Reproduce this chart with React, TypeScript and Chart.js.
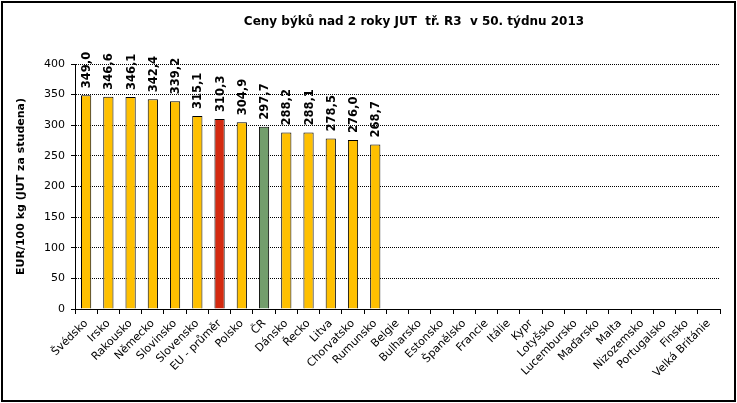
import React, { useEffect, useRef } from "react";
import { Chart, registerables } from "chart.js";

Chart.register(...registerables);

const TITLE = "Ceny býků nad 2 roky JUT  tř. R3  v 50. týdnu 2013";
const Y_TITLE = "EUR/100 kg (JUT za studena)";

const categories = [
  "Švédsko", "Irsko", "Rakousko", "Německo", "Slovinsko", "Slovensko",
  "EU - průměr", "Polsko", "ČR", "Dánsko", "Řecko", "Litva", "Chorvatsko",
  "Rumunsko", "Belgie", "Bulharsko", "Estonsko", "Španělsko", "Francie",
  "Itálie", "Kypr", "Lotyšsko", "Lucembursko", "Maďarsko", "Malta",
  "Nizozemsko", "Portugalsko", "Finsko", "Velká Británie",
];

const prices: (number | null)[] = [
  349.0, 346.6, 346.1, 342.4, 339.2, 315.1, 310.3, 304.9, 297.7, 288.2,
  288.1, 278.5, 276.0, 268.7, null, null, null, null, null, null, null,
  null, null, null, null, null, null, null, null,
];

const yTicks = [0, 50, 100, 150, 200, 250, 300, 350, 400];

const YELLOW = "#FFC000";
const RED = "#D42A10";
const GREEN = "#739E6C";

const barColors = categories.map((c) =>
  c === "EU - průměr" ? RED : c === "ČR" ? GREEN : YELLOW
);

const FONT = "'DejaVu Sans', Verdana, sans-serif";

const labelPlugin = {
  id: "valueLabels",
  afterDatasetsDraw(chart: any) {
    const ctx = chart.ctx;
    const meta = chart.getDatasetMeta(0);
    ctx.save();
    ctx.font = `bold 11.5px ${FONT}`;
    ctx.fillStyle = "#000";
    ctx.textAlign = "left";
    ctx.textBaseline = "middle";
    meta.data.forEach((bar: any, i: number) => {
      const v = prices[i];
      if (v == null) return;
      const txt = v.toFixed(1).replace(".", ",");
      ctx.save();
      ctx.translate(bar.x + 1, bar.y - 7);
      ctx.rotate(-Math.PI / 2);
      ctx.fillText(txt, 0, 0);
      ctx.restore();
    });
    ctx.restore();
  },
};

const titlePlugin = {
  id: "customTitle",
  afterDraw(chart: any) {
    const ctx = chart.ctx;
    ctx.save();
    ctx.font = `bold 12px ${FONT}`;
    ctx.fillStyle = "#000";
    ctx.textAlign = "center";
    ctx.textBaseline = "middle";
    ctx.fillText(TITLE, 414, 22);
    ctx.restore();
  },
};

export default function App() {
  const ref = useRef<HTMLCanvasElement>(null);

  useEffect(() => {
    document.body.style.margin = "0";
    const chart = new Chart(ref.current!, {
      type: "bar",
      data: {
        labels: categories,
        datasets: [
          {
            data: prices as any,
            backgroundColor: barColors,
            borderColor: "#000",
            borderWidth: 1,
            barPercentage: 0.46,
            categoryPercentage: 1,
          },
        ],
      },
      options: {
        animation: false,
        responsive: false,
        maintainAspectRatio: false,
        layout: { padding: { top: 64, right: 17, left: 0, bottom: 0 } },
        plugins: {
          legend: { display: false },
          title: { display: false },
          tooltip: { enabled: false },
        },
        scales: {
          x: {
            offset: true,
            grid: {
              display: true,
              offset: true,
              drawOnChartArea: false,
              drawTicks: true,
              tickLength: 5,
              color: "#000",
              tickColor: "#000",
            },
            border: { display: true, color: "#000", width: 1 },
            ticks: {
              autoSkip: false,
              minRotation: 45,
              maxRotation: 45,
              color: "#000",
              font: { family: FONT, size: 11 },
              padding: 3,
            },
            afterFit(scale: any) {
              scale.height = 94;
            },
          },
          y: {
            min: 0,
            max: 400,
            afterBuildTicks(scale: any) {
              scale.ticks = yTicks.map((v) => ({ value: v }));
            },
            grid: {
              color: "#000",
              tickColor: "#000",
              lineWidth: 1,
              tickLength: 4,
              drawTicks: true,
            },
            border: { display: true, color: "#000", width: 1, dash: [1, 1] },
            ticks: {
              color: "#000",
              font: { family: FONT, size: 11 },
              padding: 6,
            },
            title: {
              display: true,
              text: Y_TITLE,
              color: "#000",
              font: { family: FONT, size: 11, weight: "bold" },
              padding: { top: 15, bottom: 0 },
            },
            afterFit(scale: any) {
              scale.width = 75;
            },
          },
        },
      },
      plugins: [labelPlugin, titlePlugin],
    });
    return () => chart.destroy();
  }, []);

  return (
    <div style={{ position: "absolute", left: 0, top: 0, width: 737, height: 403, background: "#fff" }}>
      <canvas ref={ref} width={737} height={403} style={{ position: "absolute", left: 0, top: 0 }} />
      <div
        style={{
          position: "absolute",
          left: 1,
          top: 1,
          width: 735,
          height: 401,
          border: "2px solid #000",
          boxSizing: "border-box",
          pointerEvents: "none",
        }}
      />
    </div>
  );
}
